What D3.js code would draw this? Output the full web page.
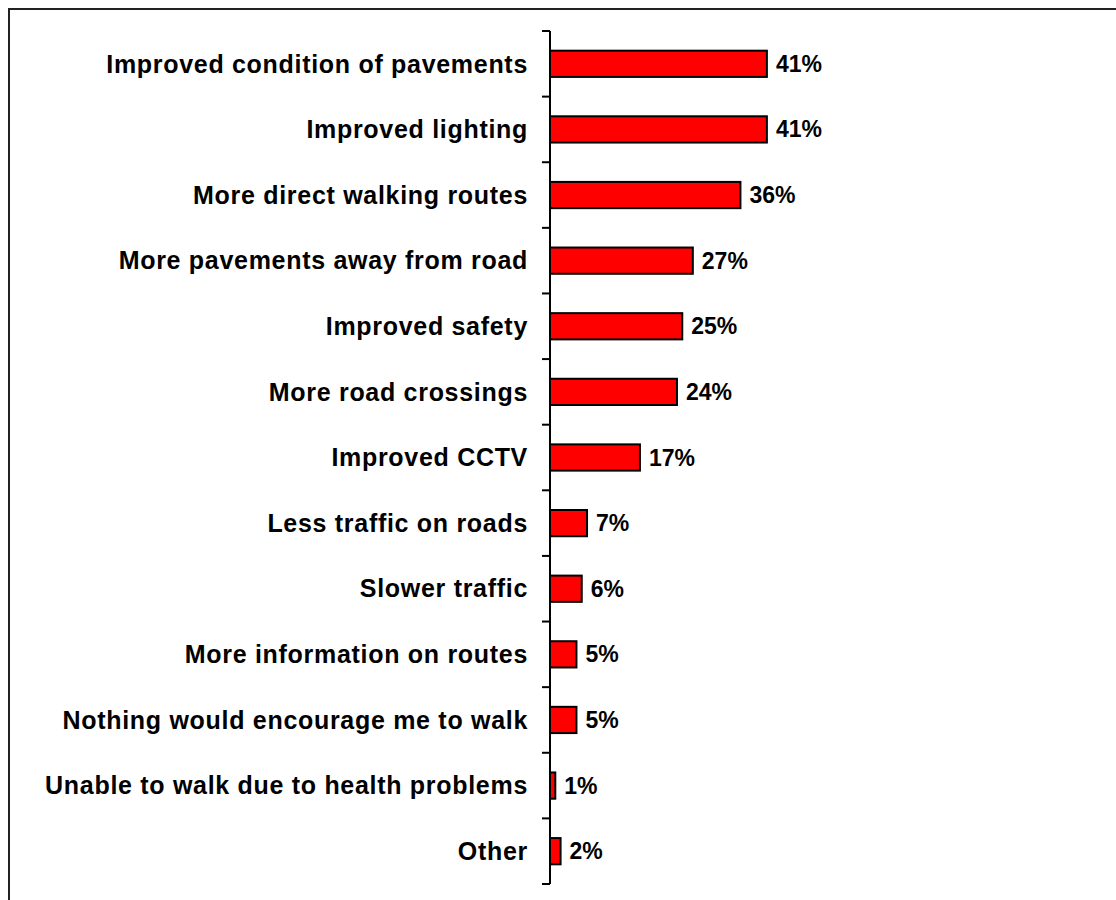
<!DOCTYPE html>
<html>
<head>
<meta charset="utf-8">
<script src="https://cdn.jsdelivr.net/npm/d3@7/dist/d3.min.js"></script>
<style>
html,body{margin:0;padding:0;background:#fff;}
svg{display:block;}
</style>
</head>
<body>
<svg id="chart" width="1116" height="900"></svg>
<script>
const categories = [
  "Improved condition of pavements",
  "Improved lighting",
  "More direct walking routes",
  "More pavements away from road",
  "Improved safety",
  "More road crossings",
  "Improved CCTV",
  "Less traffic on roads",
  "Slower traffic",
  "More information on routes",
  "Nothing would encourage me to walk",
  "Unable to walk due to health problems",
  "Other"
];
const values = [41, 41, 36, 27, 25, 24, 17, 7, 6, 5, 5, 1, 2];
const valueLabels = ["41%","41%","36%","27%","25%","24%","17%","7%","6%","5%","5%","1%","2%"];

const svg = d3.select("#chart");
const axisX = 550;

// frame
svg.append("rect").attr("x", 9).attr("y", 9).attr("width", 1300).attr("height", 1100)
  .attr("fill", "none").attr("stroke", "#222").attr("stroke-width", 2);

const y = d3.scaleBand().domain(categories).range([31, 884]).paddingInner(0.6).paddingOuter(0.3);
const x = d3.scaleLinear().domain([0, 100]).range([axisX, axisX + 529]);

// axis line
svg.append("line").attr("x1", axisX).attr("x2", axisX).attr("y1", 31).attr("y2", 884)
  .attr("stroke", "#000").attr("stroke-width", 2);
// ticks at band boundaries
const bounds = d3.range(categories.length + 1).map(i => 31 + i * (884 - 31) / categories.length);
svg.selectAll("line.tick").data(bounds).enter().append("line")
  .attr("x1", axisX - 8).attr("x2", axisX).attr("y1", d => d).attr("y2", d => d)
  .attr("stroke", "#000").attr("stroke-width", 2);

// bars
svg.selectAll("rect.bar").data(categories).enter().append("rect")
  .attr("x", axisX)
  .attr("y", d => y(d))
  .attr("width", (d, i) => x(values[i]) - axisX)
  .attr("height", y.bandwidth())
  .attr("fill", "#ff0000").attr("stroke", "#000").attr("stroke-width", 2);

// category labels
svg.selectAll("text.cat").data(categories).enter().append("text")
  .attr("x", 528)
  .attr("y", d => y(d) + y.bandwidth() / 2)
  .attr("dy", "0.35em")
  .attr("text-anchor", "end")
  .attr("font-family", "Liberation Sans, Arial, sans-serif")
  .attr("font-weight", "bold")
  .attr("font-size", 25)
  .attr("letter-spacing", 0.7)
  .text(d => d);

// value labels
svg.selectAll("text.val").data(categories).enter().append("text")
  .attr("x", (d, i) => x(values[i]) + 9)
  .attr("y", d => y(d) + y.bandwidth() / 2)
  .attr("dy", "0.35em")
  .attr("font-family", "Liberation Sans, Arial, sans-serif")
  .attr("font-weight", "bold")
  .attr("font-size", 23)
  .text((d, i) => valueLabels[i]);
</script>
</body>
</html>
